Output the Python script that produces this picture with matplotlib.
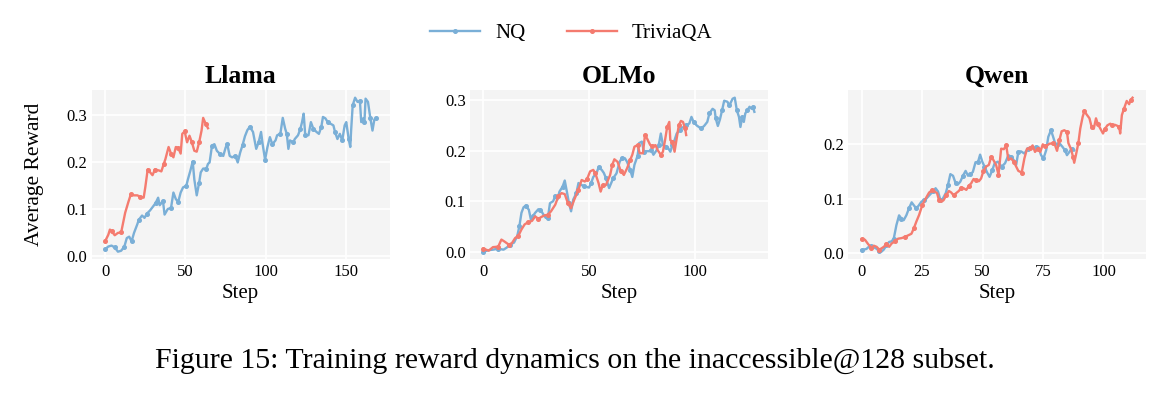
import matplotlib
matplotlib.use('Agg')
import matplotlib.pyplot as plt

plt.rcParams['font.family'] = ['Liberation Serif', 'DejaVu Serif']

# step / reward values
llama_nq_step = [0, 2, 4, 6, 8, 10, 12, 13.5, 15, 16.5, 18, 20, 21, 23, 24.5, 26, 28, 30, 31.5, 33, 34, 36, 37, 39, 41,
                 42.5, 44, 45.5, 47, 48.5, 50.5, 51.5, 53, 54.5, 55.5, 57, 58.5, 59.5, 61, 63, 64, 65, 66.5, 68, 69.5,
                 71.5, 73.5, 75, 76, 77.5, 79, 81, 82.5, 84, 85.5, 87, 88.5, 90, 92, 94, 95.5, 97, 98, 99.5, 101, 102.5,
                 104, 106, 107, 109, 110.5, 112, 113, 114, 115, 117, 118, 120, 121.5, 122.5, 123.5, 124.5, 126.5, 128,
                 129.5, 131.5, 133, 134.5, 135.5, 137, 138.5, 140, 142, 143, 144.5, 146, 147.5, 149, 150, 151.5, 152.5,
                 153, 154, 155.5, 157, 158.5, 159.3, 160.5, 161.3, 162, 163.5, 165, 166.3, 167.5, 168.5]
llama_nq = [0.014, 0.020, 0.022, 0.018, 0.009, 0.011, 0.020, 0.038, 0.041, 0.031, 0.049, 0.067, 0.077, 0.086, 0.081,
            0.090, 0.097, 0.106, 0.113, 0.124, 0.108, 0.117, 0.088, 0.100, 0.102, 0.135, 0.121, 0.115, 0.135, 0.146,
            0.149, 0.163, 0.181, 0.201, 0.163, 0.129, 0.156, 0.178, 0.186, 0.186, 0.196, 0.199, 0.235, 0.238, 0.224,
            0.217, 0.213, 0.231, 0.238, 0.213, 0.210, 0.213, 0.199, 0.220, 0.236, 0.255, 0.268, 0.275, 0.264, 0.228,
            0.242, 0.264, 0.238, 0.205, 0.232, 0.253, 0.238, 0.246, 0.257, 0.260, 0.294, 0.271, 0.260, 0.228, 0.246,
            0.242, 0.249, 0.257, 0.271, 0.285, 0.303, 0.257, 0.257, 0.285, 0.271, 0.264, 0.260, 0.275, 0.296, 0.293,
            0.285, 0.282, 0.278, 0.264, 0.249, 0.260, 0.246, 0.278, 0.285, 0.249, 0.232, 0.266, 0.321, 0.337, 0.328,
            0.330, 0.285, 0.293, 0.285, 0.335, 0.328, 0.293, 0.267, 0.291, 0.293]
llama_tqa_step = [0, 2, 3, 4, 6, 8, 10, 12.5, 14.5, 16, 18, 20, 22, 24, 25, 26.5, 28, 29.5, 31, 33.5, 35, 36.5, 37.5,
                  39.5, 41, 42.5, 44, 45.5, 47, 48, 49.5, 51, 52.5, 54, 55.5, 57, 58.5, 60, 61, 62.5, 64]
llama_tqa = [0.031, 0.045, 0.056, 0.053, 0.044, 0.049, 0.050, 0.092, 0.115, 0.131, 0.129, 0.129, 0.126, 0.124, 0.146,
             0.184, 0.178, 0.172, 0.184, 0.182, 0.180, 0.196, 0.206, 0.232, 0.218, 0.210, 0.232, 0.230, 0.218, 0.260,
             0.265, 0.242, 0.256, 0.242, 0.224, 0.222, 0.242, 0.267, 0.294, 0.282, 0.272]

olmo_nq_step = [0, 2.5, 4.5, 7, 9.5, 11, 12.5, 14.5, 16, 17, 18, 19, 20, 21.5, 22.5, 23.5, 24.5, 26, 27, 28.5, 29.5,
                30.5, 31.5, 33, 34, 35, 36, 37.5, 38.5, 39.5, 40.5, 41.5, 42.5, 44, 45, 46.5, 47.5, 49, 50, 51, 52,
                53.5, 54.5, 56, 57, 58, 59.5, 60.5, 61.5, 63, 64.5, 65.5, 67, 68, 69.5, 70.5, 71.5, 73, 73.7, 75, 76,
                77, 78.5, 79.5, 80.5, 82, 83, 84, 85, 86.5, 87.5, 88.5, 89.5, 90.5, 91.5, 93, 94, 95.5, 96, 97.5, 98.5,
                99.5, 101, 102, 103, 104.5, 106, 107, 108.5, 109.5, 110, 111, 112, 113, 114, 115.5, 116.5, 118, 119,
                120, 121, 121.7, 122.5, 123.3, 124, 125, 126, 127, 127.5, 128.3]
olmo_nq = [0.000, 0.003, 0.004, 0.006, 0.004, 0.008, 0.014, 0.018, 0.031, 0.050, 0.077, 0.088, 0.091, 0.083, 0.063,
           0.071, 0.077, 0.084, 0.083, 0.073, 0.067, 0.067, 0.096, 0.100, 0.110, 0.103, 0.119, 0.129, 0.141, 0.119,
           0.096, 0.080, 0.103, 0.116, 0.136, 0.132, 0.130, 0.128, 0.127, 0.136, 0.148, 0.155, 0.167, 0.162, 0.156,
           0.146, 0.126, 0.136, 0.146, 0.155, 0.178, 0.185, 0.185, 0.178, 0.162, 0.148, 0.172, 0.190, 0.215, 0.218,
           0.198, 0.199, 0.199, 0.201, 0.192, 0.201, 0.211, 0.234, 0.211, 0.208, 0.205, 0.198, 0.211, 0.221, 0.234,
           0.241, 0.246, 0.247, 0.250, 0.254, 0.267, 0.257, 0.250, 0.247, 0.244, 0.249, 0.257, 0.274, 0.283, 0.280,
           0.264, 0.249, 0.262, 0.280, 0.299, 0.297, 0.290, 0.303, 0.305, 0.280, 0.267, 0.247, 0.266, 0.257, 0.274,
           0.280, 0.287, 0.283, 0.287, 0.277]
olmo_tqa_step = [0, 2.5, 4.5, 7, 8.5, 10, 12, 13.5, 15, 16.5, 18, 19.5, 21, 23, 24.5, 26, 27.5, 29, 30.5, 32, 34,
                 35.5, 37, 38.5, 40, 41.5, 43, 45, 46.5, 48, 49, 50.5, 52, 53, 54.5, 55.5, 56.5, 58, 60, 61, 62, 63.5,
                 65, 66.5, 68, 69.5, 70.5, 71.5, 73, 74, 75.5, 76.5, 77.5, 79, 80, 81.5, 82.5, 84, 85, 86, 87, 88,
                 88.5, 89.5, 90.5, 91.5, 92.5, 93.5, 94.5, 95.5, 96]
olmo_tqa = [0.006, 0.002, 0.009, 0.010, 0.024, 0.020, 0.014, 0.017, 0.027, 0.031, 0.044, 0.054, 0.058, 0.061, 0.070,
            0.065, 0.069, 0.072, 0.073, 0.080, 0.093, 0.110, 0.116, 0.114, 0.096, 0.086, 0.103, 0.123, 0.142, 0.139,
            0.143, 0.159, 0.162, 0.155, 0.136, 0.119, 0.132, 0.132, 0.152, 0.172, 0.183, 0.178, 0.160, 0.152, 0.165,
            0.182, 0.192, 0.208, 0.211, 0.195, 0.195, 0.231, 0.224, 0.211, 0.209, 0.211, 0.201, 0.192, 0.198, 0.221,
            0.247, 0.257, 0.221, 0.218, 0.198, 0.224, 0.250, 0.259, 0.257, 0.244, 0.231]

qwen_nq_step = [0, 2, 3, 4, 5, 6, 7.3, 8.2, 9.2, 10.3, 11.4, 12.4, 13.3, 14.4, 15.5, 16.5, 17.4, 18.5, 19.6, 20.7,
                21.7, 22.6, 23.6, 24.7, 25.7, 26.8, 28, 29.5, 30.6, 31.6, 32.6, 33.6, 34.8, 35.7, 36.7, 37.8, 38.9,
                39.8, 40.8, 41.9, 43, 44, 45, 46, 47.1, 48.1, 49, 49.9, 50.8, 51.8, 52.9, 54, 55, 56.3, 57.9, 59.3,
                60.7, 61.8, 62.9, 63.9, 64.8, 65.9, 67.3, 68.7, 70.1, 71.2, 72.1, 73.1, 74.2, 75.2, 76.3, 77.2, 78.3,
                79.1, 80, 81.1, 82.2, 83.1, 84.1, 84.9, 85.9, 86.8, 87.9]
qwen_nq = [0.005, 0.007, 0.011, 0.013, 0.010, 0.008, 0.003, 0.002, 0.006, 0.014, 0.020, 0.021, 0.026, 0.051, 0.069,
           0.063, 0.060, 0.069, 0.082, 0.093, 0.087, 0.082, 0.087, 0.094, 0.097, 0.100, 0.106, 0.113, 0.119, 0.113,
           0.097, 0.100, 0.110, 0.125, 0.145, 0.142, 0.128, 0.126, 0.131, 0.142, 0.151, 0.142, 0.145, 0.149, 0.167,
           0.167, 0.181, 0.168, 0.159, 0.149, 0.140, 0.152, 0.165, 0.168, 0.159, 0.165, 0.180, 0.177, 0.171, 0.162,
           0.186, 0.187, 0.183, 0.192, 0.195, 0.192, 0.195, 0.195, 0.180, 0.174, 0.189, 0.214, 0.226, 0.215, 0.202,
           0.200, 0.200, 0.195, 0.189, 0.180, 0.186, 0.192, 0.189]
qwen_tqa_step = [0, 1.4, 2.7, 4.1, 5.1, 6.2, 7.3, 8.2, 9.2, 10.3, 11.4, 12.4, 13.7, 15.1, 16.5, 17.8, 19.2, 20.6, 21.6,
                 22.6, 23.8, 25.1, 26.5, 27.9, 29.3, 30.2, 31.2, 32, 33, 33.9, 35, 36.1, 37.1, 38, 39.1, 40.2, 41.2,
                 42.2, 43.3, 44.4, 45.3, 46.3, 47.4, 48.5, 49.4, 50.4, 51.5, 52.6, 53.6, 54.5, 55.6, 56.6, 57.7, 58.8,
                 59.8, 60.7, 61.8, 62.9, 63.9, 64.8, 66.2, 67.3, 68.4, 69.8, 70.7, 71.7, 72.8, 73.9, 74.9, 75.8, 76.7,
                 77.6, 79, 80, 80.8, 81.8, 82.7, 83.8, 84.9, 85.5, 86.6, 87.4, 87.9, 88.6, 89.6, 90.4, 91.4, 92.1,
                 93.2, 94.2, 95.1, 96, 96.9, 97.6, 98.7, 99.8, 100.7, 101.6, 102.8, 103.7, 104.7, 105.8, 106.5, 106.9,
                 107.6, 108.5, 109.6, 110.6, 111.3, 112]
qwen_tqa = [0.025, 0.024, 0.016, 0.009, 0.013, 0.011, 0.006, 0.008, 0.011, 0.016, 0.011, 0.017, 0.021, 0.026, 0.027,
            0.029, 0.032, 0.035, 0.045, 0.057, 0.070, 0.088, 0.100, 0.111, 0.116, 0.113, 0.110, 0.097, 0.094, 0.097,
            0.106, 0.114, 0.111, 0.106, 0.110, 0.114, 0.120, 0.119, 0.116, 0.124, 0.128, 0.136, 0.134, 0.132, 0.137,
            0.151, 0.159, 0.162, 0.177, 0.171, 0.162, 0.144, 0.192, 0.191, 0.198, 0.171, 0.174, 0.168, 0.159, 0.151,
            0.148, 0.174, 0.192, 0.193, 0.198, 0.186, 0.192, 0.186, 0.200, 0.196, 0.198, 0.201, 0.202, 0.198, 0.188,
            0.208, 0.224, 0.226, 0.223, 0.202, 0.191, 0.177, 0.166, 0.180, 0.202, 0.229, 0.251, 0.261, 0.254, 0.248,
            0.232, 0.229, 0.248, 0.238, 0.229, 0.220, 0.229, 0.235, 0.238, 0.235, 0.236, 0.234, 0.232, 0.220, 0.254,
            0.266, 0.280, 0.274, 0.282, 0.286]

titles = ['Llama', 'OLMo', 'Qwen']
panels = [(llama_nq_step, llama_nq, llama_tqa_step, llama_tqa),
          (olmo_nq_step, olmo_nq, olmo_tqa_step, olmo_tqa),
          (qwen_nq_step, qwen_nq, qwen_tqa_step, qwen_tqa)]
xticks = [[0, 50, 100, 150], [0, 50, 100], [0, 25, 50, 75, 100]]
yticks = [[0.0, 0.1, 0.2, 0.3], [0.0, 0.1, 0.2, 0.3], [0.0, 0.1, 0.2]]

blue = '#7aafd7'
red = '#f47b6f'

fig = plt.figure(figsize=(11.66, 3.93), dpi=100)
lefts = [0.0785, 0.403, 0.7273]

for i in range(3):
    ax = fig.add_axes([lefts[i], 0.340, 0.2556, 0.431])
    nq_x, nq_y, tqa_x, tqa_y = panels[i]
    ax.plot(nq_x, nq_y, color=blue, lw=1.7, marker='o', ms=2.6, markevery=3, label='NQ')
    ax.plot(tqa_x, tqa_y, color=red, lw=1.7, marker='o', ms=2.6, markevery=3, label='TriviaQA')
    ax.set_facecolor('#f4f4f4')
    ax.grid(True, color='white', lw=1.3)
    ax.set_axisbelow(True)
    for s in ax.spines.values():
        s.set_visible(False)
    ax.tick_params(length=0, labelsize=12, pad=3)
    ax.set_xticks(xticks[i])
    ax.set_yticks(yticks[i])
    ax.set_title(titles[i], fontsize=18.5, fontweight='bold', pad=5)
    ax.set_xlabel('Step', fontsize=15, labelpad=3)
    if i == 0:
        ax.set_ylabel('Average Reward', fontsize=15.5, labelpad=16)
        handles, labels = ax.get_legend_handles_labels()

fig.legend(handles, labels, loc='center', bbox_to_anchor=(0.49, 0.915), ncol=2, frameon=False,
           fontsize=15, handlelength=2.4, columnspacing=2.0, handletextpad=0.7)

fig.text(0.493, 0.082, 'Figure 15: Training reward dynamics on the inaccessible@128 subset.',
         ha='center', va='center', fontsize=21.5)

fig.savefig('out.png', dpi=100)
